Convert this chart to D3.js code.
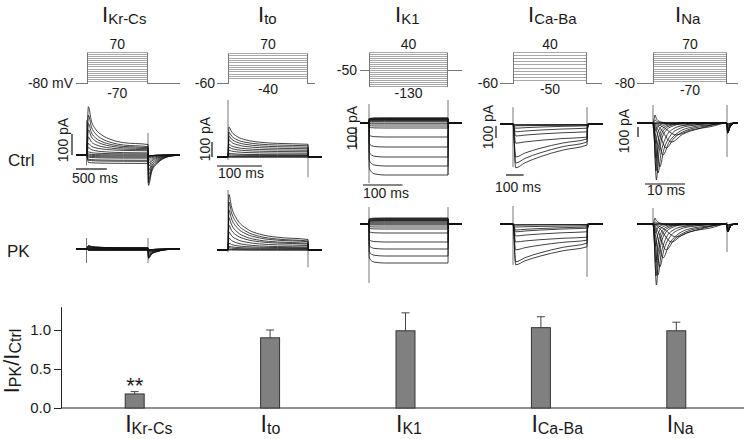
<!DOCTYPE html>
<html>
<head>
<meta charset="utf-8">
<script src="https://cdn.jsdelivr.net/npm/d3@7"></script>
<style>
body { margin: 0; background: #fff; }
text { font-family: "Liberation Sans", Arial, sans-serif; fill: #1a1a1a; }
</style>
</head>
<body>
<div id="chart-area"></div>
<script>
/*
*    PK effect on cardiac currents
*/

// Bar chart data
var currents = ["Kr-Cs", "to", "K1", "Ca-Ba", "Na"];
var ratio = [0.18, 0.90, 0.99, 1.03, 0.99];
var ratioErr = [0.03, 0.10, 0.23, 0.14, 0.11];
var ratioTicks = [0.0, 0.5, 1.0];

// Voltage protocols (mV / ms)
var holdV = [-80, -60, -50, -60, -80];
var stepMs = [1000, 178, 200, 420, 18.5];
var krLevels = [70, 60, 50, 40, 30, 20, 10, 0, -10, -20, -30, -40, -50, -60, -70];
var itoLevels = [70, 60, 50, 40, 30, 20, 10, 0, -10, -20, -30, -40];
var k1Levels = [40, 30, 20, 10, 0, -10, -20, -30, -40, -50, -60, -70, -80, -90, -100, -110, -120, -130];
var caLevels = [40, 30, 20, 10, 0, -10, -20, -30, -40, -50];
var naLevels = [70, 60, 50, 40, 30, 20, 10, 0, -10, -20, -30, -40, -50, -60, -70];
var timeBar = [500, 100, 100, 100, 10];
var timeBarLabel = ["500 ms", "100 ms", "100 ms", "100 ms", "10 ms"];

// I Kr-Cs sweeps (pA), -70..70 mV
var krCtrlPeak = [-35, -25, -20, -10, -5, 0, 5, 15, 35, 55, 85, 120, 150, 190, 230];
var krCtrlLate = [-40, -30, -25, -15, -10, -5, 0, 5, 10, 20, 25, 30, 35, 40, 50];
var krCtrlTail = [-5, -5, -5, -5, -5, -10, -15, -25, -40, -55, -75, -95, -115, -130, -145];
var krPkPeak = [-5, -5, -5, -5, 0, 0, 0, 0, 5, 5, 10, 10, 15, 15, 15];
var krPkLate = [-5, -5, -5, -5, -3, -3, 0, 0, 0, 3, 3, 5, 5, 5, 5];
var krPkTail = [-5, -5, -5, -5, -5, -10, -10, -15, -20, -25, -30, -35, -40, -40, -45];
var krT = [30, 80, 150, 250, 400, 600, 1000];
var krF = [1, 0.62, 0.4, 0.25, 0.13, 0.05, 0];
var krTailT = [8, 60, 150, 270, 390, 490];
var krTailF = [1, 0.55, 0.28, 0.1, 0.03, 0.01];

// I to sweeps (pA), -40..70 mV
var itoCtrlPeak = [0, 0, 5, 15, 25, 45, 65, 85, 115, 140, 165, 200];
var itoCtrlLate = [0, 0, 5, 10, 15, 25, 35, 45, 55, 65, 75, 85];
var itoPkPeak = [0, 5, 15, 25, 45, 80, 120, 165, 215, 265, 320, 370];
var itoPkLate = [0, 0, 5, 10, 15, 20, 30, 40, 45, 55, 60, 70];
var itoT = [2, 8, 20, 40, 70, 110, 178];
var itoF = [1, 0.72, 0.45, 0.25, 0.12, 0.05, 0];

// I K1 sweeps (pA), 40..-130 mV
var k1Ctrl = [25, 25, 22, 20, 20, 17, 15, 12, 8, 0, -5, -15, -25, -70, -120, -170, -215, -260];
var k1Pk = [30, 28, 25, 22, 20, 17, 15, 10, 5, 0, -5, -15, -25, -45, -90, -125, -160, -195];
var k1T = [0.4, 6, 15, 40, 200];
var k1F = [0.85, 0.94, 0.98, 1, 1];

// I Ca-Ba sweeps (pA), -50..40 mV
var caCtrlPeak = [-5, -10, -15, -35, -65, -160, -275, -365, -325, -100];
var caCtrlLate = [-5, -5, -10, -15, -35, -110, -125, -175, -150, -65];
var caPkPeak = [-5, -10, -25, -50, -65, -150, -215, -340, -315, -100];
var caPkLate = [-5, -5, -15, -25, -35, -110, -135, -190, -160, -65];
var caT = [15, 68, 153, 284, 420];
var caF = [1, 0.78, 0.52, 0.22, 0];

// I Na sweeps (pA), -70..70 mV
var naCtrlPeak = [0, -20, -120, -190, -250, -320, -440, -500, -570, -480, -350, -200, -80, 30, 80];
var naPkPeak = [0, -20, -130, -180, -260, -340, -430, -510, -610, -520, -380, -220, -90, 20, 60];
var naTpk = [1, 8, 5.8, 4.6, 3.3, 2.5, 1.7, 1.25, 0.85, 0.75, 0.7, 0.65, 0.6, 0.55, 0.5];
var naCtrlTail = [-10, -10, -20, -30, -40, -50, -60, -70, -80, -90, -100, -100, -100, -100, -100];
var naPkTail = [-10, -10, -20, -30, -40, -50, -60, -70, -70, -80, -80, -80, -80, -80, -80];
var naT = [0.4, 1, 1.6, 2.5, 4, 6, 10];
var naF = [0.3, 1, 0.6, 0.3, 0.12, 0.05, 0];

// capacitive artifacts (pA): on top, on bottom, off top, off bottom
var ctrlArt = [[165, -50, 105, -135], [380, -20, 45, -135], [95, -300, 115, -260], [140, -360, 140, -115], [180, -50, 180, -340]];
var pkArt = [[52, -67, 52, -67], [400, -15, 35, -115], [85, -295, 85, -80], [150, -340, -5, -440], [160, 0, 20, -280]];

// Layout (pixels)
var W = 745, H = 439;
var layout = [
  {x0: 76, xs: 86.5, xe: 148, x1: 180, tx: 180, vy: [83, 52], ctrl: 155, pk: 249, pa100: 21, title: 102,
   vbar: [72, 134], vlab: [68, 140], hbar: [76, 169], hlab: [72, 183], hold: [73, "-80 mV"], top: "70", bot: "-70", botY: 98},
  {x0: 217, xs: 228, xe: 308, x1: 315, tx: 322, vy: [83, 53], ctrl: 157, pk: 250, pa100: 15, title: 258,
   vbar: [212, 142], vlab: [210, 139], hbar: [217, 166], hlab: [218, 178], hold: [215, "-60"], top: "70", bot: "-40", botY: 94},
  {x0: 360, xs: 369, xe: 448, x1: 462, tx: 462, vy: [86, 52], ctrl: 123, pk: 224, pa100: 20, title: 395,
   vbar: [356, 127], vlab: [357, 128], hbar: [363, 185], hlab: [363, 198], hold: [357, "-50"], top: "40", bot: "-130", botY: 98},
  {x0: 500, xs: 513, xe: 587, x1: 602, tx: 603, vy: [83, 52], ctrl: 124, pk: 224, pa100: 12, title: 528,
   vbar: [496, 126], vlab: [493, 127], hbar: [506, 175], hlab: [495, 192], hold: [498, "-60"], top: "40", bot: "-50", botY: 94},
  {x0: 637, xs: 653, xe: 727, x1: 738, tx: 738, vy: [83, 52], ctrl: 123, pk: 224, pa100: 10, title: 675,
   vbar: [638, 127], vlab: [629, 131], hbar: [645, 184], hlab: [647, 195], hold: [635, "-80"], top: "70", bot: "-70", botY: 95}
];
var levels = [krLevels, itoLevels, k1Levels, caLevels, naLevels];

var svg = d3.select("#chart-area").append("svg").attr("width", W).attr("height", H);

// Sweep builders: return [ms, pA] points
function krPoints(d, i, t0, t1, dur) {
  var p = [[t0, 0], [0, 0]];
  krT.forEach(function(t, k) { p.push([t, d.late[i] + (d.peak[i] - d.late[i]) * krF[k]]); });
  krTailT.forEach(function(t, k) { p.push([dur + t, d.tail[i] * krTailF[k]]); });
  p.push([t1, 0]);
  return p;
}
function itoPoints(d, i, t0, t1, dur) {
  var p = [[t0, 0], [0, 0]];
  itoT.forEach(function(t, k) { p.push([t, d.late[i] + (d.peak[i] - d.late[i]) * itoF[k]]); });
  p.push([dur + 1, 0]);
  p.push([t1, 0]);
  return p;
}
function k1Points(d, i, t0, t1, dur) {
  var p = [[t0, 0], [0, 0]];
  k1T.forEach(function(t, k) { p.push([t, d.ss[i] * k1F[k]]); });
  p.push([dur + 0.8, 0]);
  p.push([t1, 0]);
  return p;
}
function caPoints(d, i, t0, t1, dur) {
  var p = [[t0, 0], [0, 0]];
  caT.forEach(function(t, k) { p.push([t, d.late[i] + (d.peak[i] - d.late[i]) * caF[k]]); });
  p.push([dur + 3, d.late[i] * 0.25]);
  p.push([dur + 12, 0]);
  p.push([t1, 0]);
  return p;
}
function naPoints(d, i, t0, t1, dur) {
  var p = [[t0, 0], [0, 0]];
  naT.forEach(function(m, k) {
    var t = m * d.tpk[i];
    if (t < dur - 0.3) p.push([t, d.peak[i] * naF[k]]);
  });
  p.push([dur, 0]);
  p.push([dur + 0.15, d.tail[i]]);
  p.push([dur + 0.8, d.tail[i] * 0.35]);
  p.push([dur + 2, 0]);
  p.push([t1, 0]);
  return p;
}

var builders = [krPoints, itoPoints, k1Points, caPoints, naPoints];
var rows = [
  [{peak: krCtrlPeak, late: krCtrlLate, tail: krCtrlTail}, {peak: krPkPeak, late: krPkLate, tail: krPkTail}],
  [{peak: itoCtrlPeak, late: itoCtrlLate}, {peak: itoPkPeak, late: itoPkLate}],
  [{ss: k1Ctrl}, {ss: k1Pk}],
  [{peak: caCtrlPeak, late: caCtrlLate}, {peak: caPkPeak, late: caPkLate}],
  [{peak: naCtrlPeak, tpk: naTpk, tail: naCtrlTail}, {peak: naPkPeak, tpk: naTpk, tail: naPkTail}]
];
var nSweeps = [krCtrlPeak.length, itoCtrlPeak.length, k1Ctrl.length, caCtrlPeak.length, naCtrlPeak.length];

layout.forEach(function(L, p) {
  var g = svg.append("g");
  var dur = stepMs[p];
  var x = d3.scaleLinear().domain([0, dur]).range([L.xs, L.xe]);
  var lv = levels[p];
  var vMin = Math.min(holdV[p], d3.min(lv)), vMax = d3.max(lv);
  var v = d3.scaleLinear().domain([vMin, vMax]).range(L.vy);
  var snap = function(d) { return Math.round(v(d)) + 0.5; };

  // Title
  var tt = g.append("text").attr("x", L.title).attr("y", 22);
  tt.append("tspan").attr("font-size", 22).text("I");
  tt.append("tspan").attr("font-size", 15).attr("dy", 2).text(currents[p]);

  // Protocol
  var proto = g.append("g").attr("fill", "none").attr("shape-rendering", "crispEdges");
  proto.selectAll("line.lev").data(lv).enter().append("line").attr("class", "lev")
    .attr("x1", Math.round(x(0))).attr("x2", Math.round(x(dur))).attr("y1", snap).attr("y2", snap)
    .attr("stroke", "#a8a8a8").attr("stroke-width", 1);
  proto.append("path").attr("stroke", "#777").attr("stroke-width", 1)
    .attr("d", "M" + L.x0 + "," + snap(holdV[p]) + "H" + Math.round(x(0)) +
      "M" + (Math.round(x(0)) + 0.5) + "," + snap(vMin) + "V" + snap(vMax) +
      "M" + (Math.round(x(dur)) - 0.5) + "," + snap(vMax) + "V" + snap(vMin) +
      "M" + Math.round(x(dur)) + "," + snap(holdV[p]) + "H" + L.x1);
  g.append("text").attr("x", L.hold[0]).attr("y", v(holdV[p]) + 5).attr("text-anchor", "end").attr("font-size", 14).text(L.hold[1]);
  g.append("text").attr("x", (x(0) + x(dur)) / 2).attr("y", 49).attr("text-anchor", "middle").attr("font-size", 14).text(L.top);
  g.append("text").attr("x", (x(0) + x(dur)) / 2).attr("y", L.botY).attr("text-anchor", "middle").attr("font-size", 14).text(L.bot);

  // Traces, Ctrl then PK
  var t0 = x.invert(L.x0), t1 = x.invert(L.tx);
  [L.ctrl, L.pk].forEach(function(base, r) {
    var y = d3.scaleLinear().domain([0, 100]).range([base, base - L.pa100]);
    var line = d3.line().x(function(d) { return x(d[0]); }).y(function(d) { return y(d[1]); }).curve(d3.curveMonotoneX);
    var d = rows[p][r];
    var art = r === 0 ? ctrlArt[p] : pkArt[p];
    g.append("line").attr("x1", x(0)).attr("x2", x(0)).attr("y1", y(art[0])).attr("y2", y(art[1]))
      .attr("stroke", "#777").attr("stroke-width", 1);
    g.append("line").attr("x1", x(dur)).attr("x2", x(dur)).attr("y1", y(art[2])).attr("y2", y(art[3]))
      .attr("stroke", "#777").attr("stroke-width", 1);
    g.append("g").selectAll("path").data(d3.range(nSweeps[p])).enter().append("path")
      .attr("d", function(i) { return line(builders[p](d, i, t0, t1, dur)); })
      .attr("fill", "none").attr("stroke", "#111").attr("stroke-width", 0.8);
  });

  // Scale bars (Ctrl row)
  g.append("line").attr("x1", L.vbar[0]).attr("x2", L.vbar[0]).attr("y1", L.vbar[1]).attr("y2", L.vbar[1] + L.pa100)
    .attr("stroke", "#111").attr("stroke-width", 1.2);
  g.append("text").attr("transform", "translate(" + L.vlab[0] + "," + L.vlab[1] + ") rotate(-90)")
    .attr("text-anchor", "middle").attr("font-size", 14).text("100 pA");
  g.append("line").attr("x1", L.hbar[0]).attr("x2", L.hbar[0] + (x(timeBar[p]) - x(0))).attr("y1", L.hbar[1]).attr("y2", L.hbar[1])
    .attr("stroke", "#111").attr("stroke-width", 1.2);
  g.append("text").attr("x", L.hlab[0]).attr("y", L.hlab[1]).attr("font-size", 14).text(timeBarLabel[p]);
});

// Row labels
svg.append("text").attr("x", 8).attr("y", 166).attr("font-size", 17).text("Ctrl");
svg.append("text").attr("x", 7).attr("y", 257).attr("font-size", 17).text("PK");

// Bar chart
var bx = d3.scaleBand().domain(currents).range([67, 744]).paddingInner(0.86).paddingOuter(0.43);
var by = d3.scaleLinear().domain([0, 1.3]).range([408, 306.6]);

var yAxisGroup = svg.append("g").attr("transform", "translate(61,0)")
  .call(d3.axisLeft(by).tickValues(ratioTicks).tickFormat(d3.format(".1f")).tickSize(7).tickSizeOuter(0).tickPadding(3));
yAxisGroup.selectAll("text").attr("font-size", 15).style("font-family", "Liberation Sans, Arial, sans-serif").attr("fill", "#1a1a1a");
yAxisGroup.selectAll("line, path").attr("stroke", "#222");

svg.append("line").attr("x1", 61).attr("x2", 744).attr("y1", by(0)).attr("y2", by(0)).attr("stroke", "#222");

var bars = svg.append("g");
bars.selectAll("line.err").data(currents).enter().append("line").attr("class", "err")
  .attr("x1", function(d) { return bx(d) + bx.bandwidth() / 2; }).attr("x2", function(d) { return bx(d) + bx.bandwidth() / 2; })
  .attr("y1", function(d, i) { return by(ratio[i]); }).attr("y2", function(d, i) { return by(ratio[i] + ratioErr[i]); })
  .attr("stroke", "#444");
bars.selectAll("line.cap").data(currents).enter().append("line").attr("class", "cap")
  .attr("x1", function(d) { return bx(d) + bx.bandwidth() / 2 - 4; }).attr("x2", function(d) { return bx(d) + bx.bandwidth() / 2 + 4; })
  .attr("y1", function(d, i) { return by(ratio[i] + ratioErr[i]); }).attr("y2", function(d, i) { return by(ratio[i] + ratioErr[i]); })
  .attr("stroke", "#444");
bars.selectAll("rect").data(currents).enter().append("rect")
  .attr("x", function(d) { return bx(d); }).attr("width", bx.bandwidth())
  .attr("y", function(d, i) { return by(ratio[i]); }).attr("height", function(d, i) { return by(0) - by(ratio[i]); })
  .attr("fill", "#808080").attr("stroke", "#333").attr("stroke-width", 1);

svg.append("text").attr("x", bx("Kr-Cs") + bx.bandwidth() / 2).attr("y", 393).attr("text-anchor", "middle")
  .attr("font-size", 22).text("**");

currents.forEach(function(c) {
  var t = svg.append("text").attr("x", bx(c)).attr("y", 432);
  t.append("tspan").attr("font-size", 23).text("I");
  t.append("tspan").attr("font-size", 16).attr("dy", 1.5).text(c);
});

var yl = svg.append("text").attr("transform", "translate(19,361) rotate(-90)").attr("text-anchor", "middle");
yl.append("tspan").attr("font-size", 22).text("I");
yl.append("tspan").attr("font-size", 16).attr("dy", 2).text("PK");
yl.append("tspan").attr("font-size", 22).attr("dy", -2).text("/I");
yl.append("tspan").attr("font-size", 16).attr("dy", 2).text("Ctrl");
</script>
</body>
</html>
